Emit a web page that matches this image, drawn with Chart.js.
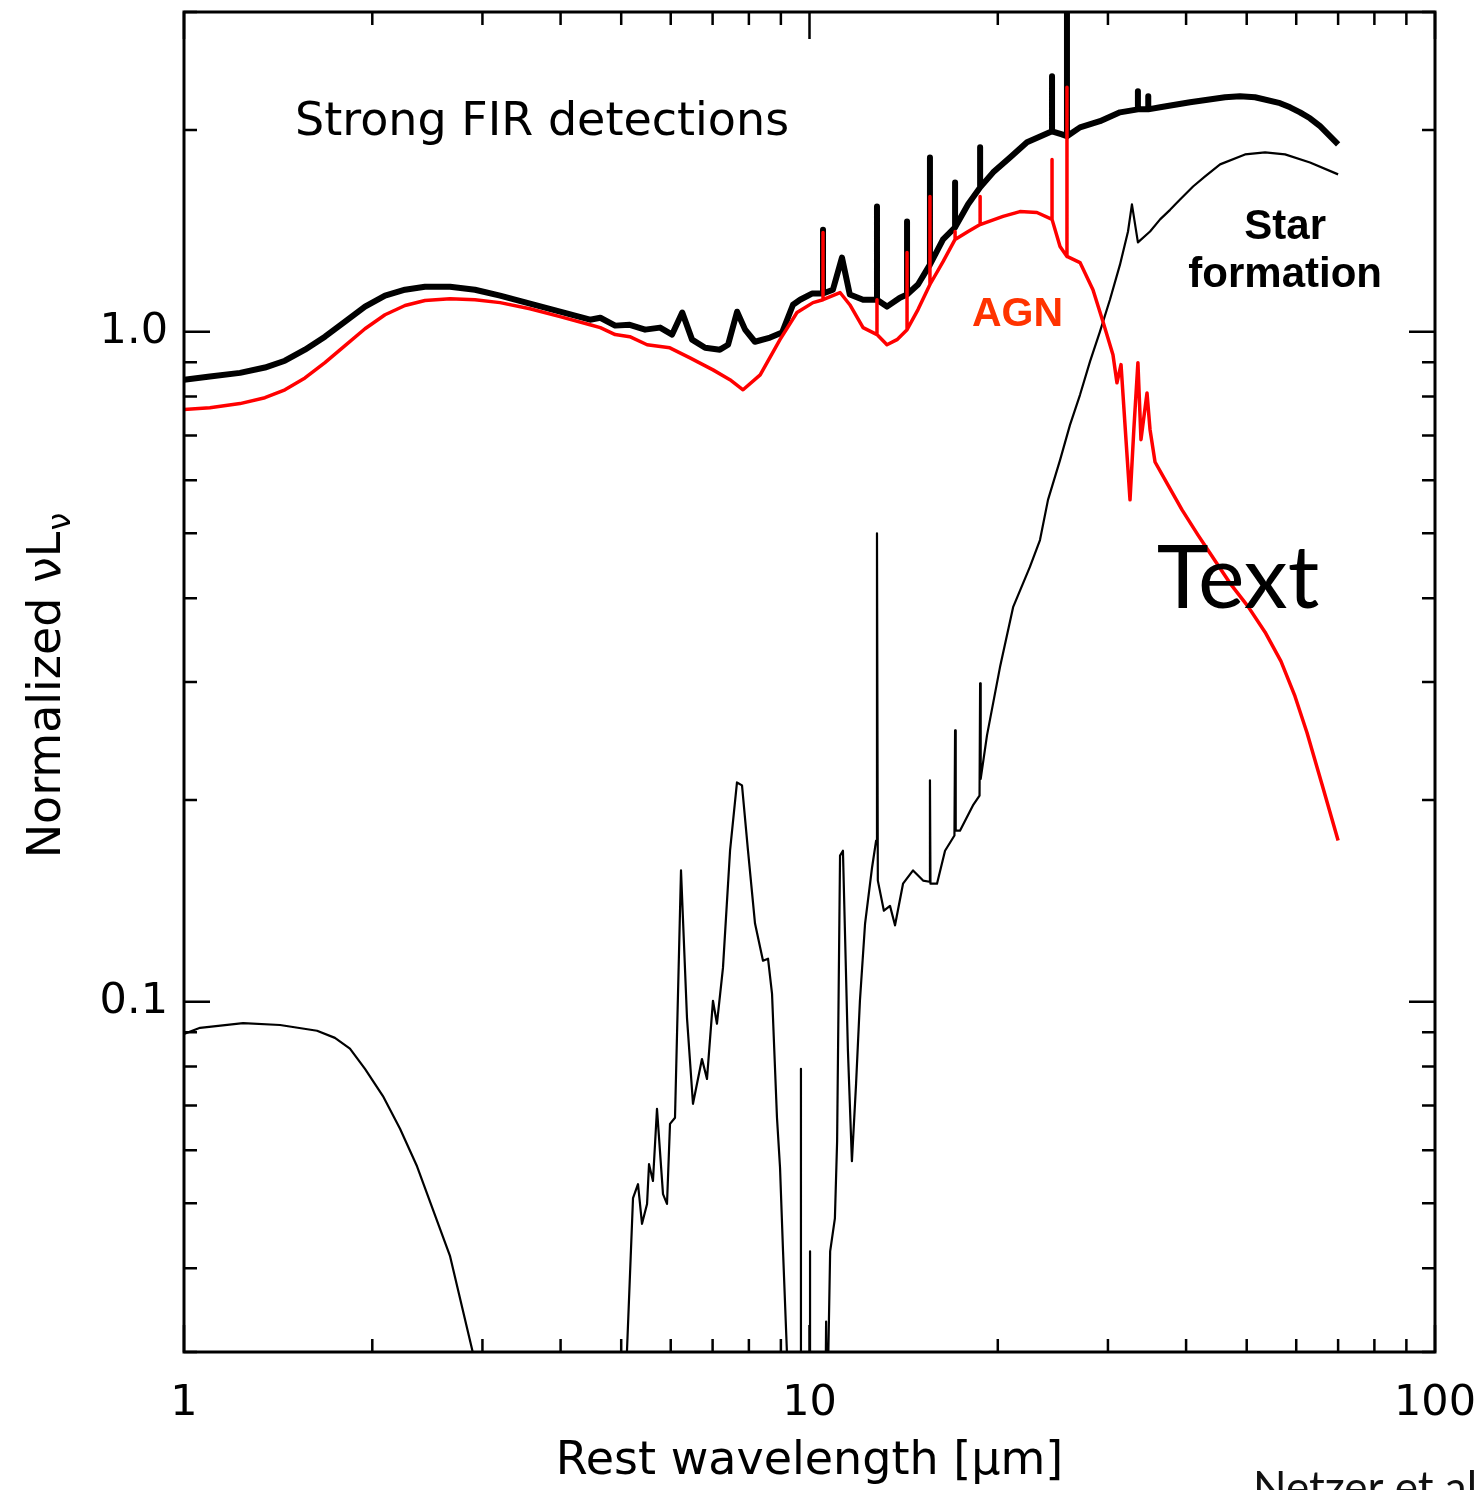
<!DOCTYPE html>
<html>
<head>
<meta charset="utf-8">
<script src="https://cdn.jsdelivr.net/npm/chart.js@4.4.1/dist/chart.umd.min.js"></script>
<style>
  html, body { margin: 0; padding: 0; background: #fff; }
  #sed { display: block; }
</style>
</head>
<body>
<canvas id="sed" width="1481" height="1490"></canvas>
<script>
// Rest wavelength (micron) and normalized nuL_nu

// total SED (thick black)
const totalWave = [1, 1.100, 1.229, 1.347, 1.450, 1.561, 1.680, 1.809, 1.947, 2.096, 2.256, 2.428,
  2.663, 2.919, 3.201, 3.574, 3.992, 4.458,
  4.63, 4.89, 5.16, 5.46, 5.77, 6.03, 6.26, 6.49, 6.81, 7.19, 7.41, 7.66, 7.89,
  8.18, 8.65, 9.04, 9.41, 9.66, 10.09,
  10.51, 10.51, 10.51,
  10.9, 11.27, 11.6, 12.18,
  12.82, 12.82, 12.82,
  13.3, 13.95,
  14.32, 14.32, 14.32,
  14.91,
  15.58, 15.58, 15.58,
  16.35,
  17.09, 17.09, 17.09,
  17.93,
  18.74, 18.74, 18.74,
  19.66, 20.92, 22.27,
  24.42, 24.42, 24.42,
  25.33,
  25.8, 25.8, 25.8,
  27.07, 29.13, 31.36,
  33.5, 33.5, 33.5,
  34.8, 34.8, 34.8,
  36.35, 40.58, 46.17, 48.78, 51.56, 56.53, 58.66, 60.85, 63.12, 65.5, 70];
const totalFlux = [0.848, 0.857, 0.868, 0.884, 0.905, 0.940, 0.983, 1.035, 1.090, 1.132, 1.155, 1.167,
  1.167, 1.155, 1.132, 1.101, 1.071, 1.042,
  1.049, 1.021, 1.024, 1.007, 1.014, 0.990, 1.068, 0.973, 0.946, 0.940, 0.956, 1.071, 1.007,
  0.966, 0.980, 0.997, 1.097, 1.116, 1.140,
  1.140, 1.420, 1.140,
  1.155, 1.290, 1.136, 1.116,
  1.116, 1.538, 1.116,
  1.090, 1.124,
  1.136, 1.460, 1.136,
  1.176,
  1.259, 1.820, 1.259,
  1.373,
  1.431, 1.670, 1.431,
  1.549,
  1.642, 1.884, 1.642,
  1.729, 1.820, 1.917,
  1.991, 2.406, 1.991,
  1.970,
  1.957, 3.500, 1.957,
  2.018, 2.061, 2.125,
  2.147, 2.285, 2.147,
  2.147, 2.245, 2.147,
  2.162, 2.200, 2.238, 2.245, 2.238, 2.193, 2.162, 2.125, 2.082, 2.026, 1.904];

// AGN component (red)
const agnWave = [1, 1.100, 1.229, 1.347, 1.450, 1.561, 1.680, 1.809, 1.947, 2.096, 2.256, 2.428,
  2.663, 2.919, 3.201, 3.574, 3.992, 4.458,
  4.63, 4.89, 5.16, 5.50, 5.98, 6.44, 7.01, 7.46, 7.83, 8.34, 8.97, 9.55, 10.13,
  10.51, 10.51, 10.51,
  11.19, 11.6,
  12.18, 12.82, 12.82, 12.82,
  13.3, 13.8,
  14.32, 14.32, 14.32,
  14.91,
  15.58, 15.58, 15.58,
  16.35,
  17.09, 17.09, 17.09,
  17.93,
  18.74, 18.74, 18.74,
  20.39, 21.7, 23.1,
  24.42, 24.42, 24.42,
  25.15,
  25.8, 25.8, 25.8,
  27.07, 28.39, 29.46, 30.56, 31.01, 31.48, 32.06, 32.54, 33.0, 33.5, 33.88, 34.64, 35.03, 35.68,
  37.43, 39.41, 41.8, 44.5, 47.0, 50.23, 53.5, 56.73, 59.72, 62.43, 65.98, 70];
const agnFlux = [0.765, 0.770, 0.781, 0.797, 0.819, 0.853, 0.899, 0.953, 1.010, 1.060, 1.094, 1.113,
  1.120, 1.116, 1.105, 1.082, 1.053, 1.024,
  1.014, 0.990, 0.983, 0.956, 0.946, 0.914, 0.877, 0.848, 0.819, 0.862, 0.973, 1.068, 1.105,
  1.116, 1.406, 1.116,
  1.144, 1.097,
  1.014, 0.990, 1.116, 0.990,
  0.956, 0.973,
  1.007, 1.313, 1.007,
  1.079,
  1.176, 1.591, 1.176,
  1.272,
  1.373, 1.411, 1.373,
  1.411,
  1.445, 1.591, 1.445,
  1.486, 1.511, 1.506,
  1.471, 1.807, 1.471,
  1.340,
  1.295, 2.317, 1.295,
  1.268, 1.155, 1.035, 0.924, 0.839, 0.893, 0.690, 0.561, 0.714, 0.899, 0.690, 0.810, 0.714, 0.639,
  0.590, 0.542, 0.497, 0.455, 0.4215, 0.389, 0.356, 0.322, 0.2857, 0.252, 0.211, 0.174];

// star formation component (thin black); null = drops below the plot
const sfWave = [1, 1.061, 1.243, 1.424, 1.632, 1.743, 1.842, 1.947, 2.08, 2.215, 2.358, 2.663, 2.897, 3.084, 3.5,
  5.07, 5.222, 5.319, 5.398, 5.499, 5.539, 5.62, 5.704, 5.832, 5.918, 5.984, 6.095, 6.231, 6.37,
  6.512, 6.731, 6.857, 7.009, 7.113, 7.272, 7.464, 7.657, 7.8, 7.974, 8.183, 8.427, 8.584, 8.712,
  8.872, 8.972, 9.072, 9.204, 9.306, 9.5,
  9.69, 9.69, 9.69, 9.85,
  10.02, 10.02, 10.02, 10.3,
  10.60, 10.63, 10.67, 10.79, 10.98, 11.07, 11.19, 11.31, 11.52, 11.69, 11.87, 12.04, 12.27, 12.59,
  12.78, 12.82, 12.86, 13.15, 13.45, 13.7, 14.11, 14.64, 15.19,
  15.55, 15.58, 15.61, 15.99, 16.47,
  17.05, 17.09, 17.13, 17.4, 18.25,
  18.70, 18.74, 18.78, 19.22, 20.16, 21.16, 22.51, 23.36, 24.06, 25.15, 26.09, 27.07, 28.08,
  29.13, 30.22, 31.36, 32.3, 32.77, 33.5, 35.03, 36.35, 37.71, 39.12, 41.04, 42.9, 45.33,
  49.69, 53.5, 57.58, 63.12, 70];
const sfFlux = [0.0895, 0.0914, 0.0929, 0.0923, 0.0905, 0.0883, 0.0851, 0.0794, 0.0723, 0.0646, 0.0568, 0.0417, 0.0299, 0.0236, null,
  0.0253, 0.0509, 0.0534, 0.0466, 0.0499, 0.0572, 0.054, 0.0692, 0.0516, 0.0499, 0.0657, 0.0671, 0.157, 0.0946,
  0.0704, 0.0821, 0.0767, 0.1003, 0.0927, 0.1123, 0.168, 0.2124, 0.2103, 0.168, 0.1308, 0.1151, 0.1159, 0.1027,
  0.0671, 0.0565, 0.0424, 0.0299, 0.0236, null,
  0.0236, 0.0794, 0.0236, null,
  0.0236, 0.0424, 0.0236, null,
  0.0236, 0.0333, 0.0236, 0.0424, 0.0475, 0.0619, 0.1652, 0.168, 0.0844, 0.0578, 0.0754, 0.1003, 0.1308, 0.1586,
  0.174, 0.500, 0.1516, 0.1367, 0.139, 0.130, 0.150, 0.157, 0.1516,
  0.151, 0.214, 0.150, 0.150, 0.168,
  0.177, 0.254, 0.180, 0.180, 0.1963,
  0.203, 0.2987, 0.215, 0.2497, 0.3155, 0.388, 0.4455, 0.4887, 0.561, 0.643, 0.726, 0.805, 0.902,
  1.0, 1.116, 1.259, 1.411, 1.549, 1.359, 1.411, 1.471, 1.520, 1.575, 1.647, 1.705, 1.777,
  1.839, 1.852, 1.839, 1.789, 1.717];

// axes
const xMajorTicks = [1, 10, 100];
const xTickLabels = ['1', '10', '100'];
const xMinorTicks = [2, 3, 4, 5, 6, 7, 8, 9, 20, 30, 40, 50, 60, 70, 80, 90];
const yMajorTicks = [0.1, 1];
const yTickLabels = ['0.1', '1.0'];
const yMinorTicks = [0.03, 0.04, 0.05, 0.06, 0.07, 0.08, 0.09, 0.2, 0.3, 0.4, 0.5, 0.6, 0.7, 0.8, 0.9, 2, 3];

const FONT = "'DejaVu Sans', sans-serif";

function pairs(xs, ys) {
  return xs.map((w, i) => ({ x: w, y: ys[i] }));
}

// inward IDL-style ticks, frame, tick labels and text
const framePlugin = {
  id: 'framePlugin',
  afterDatasetsDraw(chart) {
    const { ctx, chartArea: a, scales } = chart;
    const xs = scales.x, ys = scales.y;
    ctx.save();
    ctx.strokeStyle = '#000';
    ctx.lineWidth = 2.5;
    ctx.beginPath();
    const xTick = (v, len) => {
      const px = xs.getPixelForValue(v);
      ctx.moveTo(px, a.bottom); ctx.lineTo(px, a.bottom - len);
      ctx.moveTo(px, a.top); ctx.lineTo(px, a.top + len);
    };
    const yTick = (v, len) => {
      const py = ys.getPixelForValue(v);
      ctx.moveTo(a.left, py); ctx.lineTo(a.left + len, py);
      ctx.moveTo(a.right, py); ctx.lineTo(a.right - len, py);
    };
    xMajorTicks.forEach(v => xTick(v, 27));
    xMinorTicks.forEach(v => xTick(v, 13));
    yMajorTicks.forEach(v => yTick(v, 26));
    yMinorTicks.forEach(v => yTick(v, 13));
    ctx.stroke();
    ctx.lineWidth = 3;
    ctx.strokeRect(a.left, a.top, a.right - a.left, a.bottom - a.top);

    // tick labels
    ctx.fillStyle = '#000';
    ctx.font = '43px ' + FONT;
    ctx.textAlign = 'center';
    ctx.textBaseline = 'middle';
    xMajorTicks.forEach((v, i) => {
      ctx.fillText(xTickLabels[i], xs.getPixelForValue(v), a.bottom + 52);
    });
    ctx.textAlign = 'right';
    yMajorTicks.forEach((v, i) => {
      ctx.fillText(yTickLabels[i], a.left - 16, ys.getPixelForValue(v));
    });

    // annotations placed in data coordinates
    const at = (w, f) => [xs.getPixelForValue(w), ys.getPixelForValue(f)];
    ctx.textBaseline = 'middle';
    ctx.textAlign = 'left';
    ctx.font = '46px ' + FONT;
    let p = at(1.505, 2.05);
    ctx.fillText('Strong FIR detections', p[0], p[1]);

    ctx.textAlign = 'center';
    ctx.font = "bold 42px 'Liberation Sans', Arial, sans-serif";
    p = at(57.6, 1.43);
    ctx.fillText('Star', p[0], p[1]);
    p = at(57.6, 1.215);
    ctx.fillText('formation', p[0], p[1]);

    ctx.fillStyle = '#ff3300';
    ctx.font = "bold 41px 'Liberation Sans', Arial, sans-serif";
    p = at(21.5, 1.06);
    ctx.fillText('AGN', p[0], p[1]);

    ctx.fillStyle = '#000';
    ctx.textAlign = 'left';
    ctx.textBaseline = 'alphabetic';
    ctx.font = "88px Lato, 'Open Sans', sans-serif";
    p = at(35.9, 0.387);
    ctx.fillText('Text', p[0], p[1]);
    ctx.restore();
  },
  afterDraw(chart) {
    const { ctx, chartArea: a } = chart;
    ctx.save();
    ctx.fillStyle = '#000';
    // x title
    ctx.font = '46px ' + FONT;
    ctx.textAlign = 'center';
    ctx.textBaseline = 'middle';
    ctx.fillText('Rest wavelength [\u03bcm]', (a.left + a.right) / 2, a.bottom + 110);

    // y title with subscript nu
    const main = 'Normalized \u03bdL';
    ctx.font = '46px ' + FONT;
    const wMain = ctx.measureText(main).width;
    ctx.font = '32px ' + FONT;
    const wSub = ctx.measureText('\u03bd').width;
    ctx.translate(44, (a.top + a.bottom) / 2 + 4);
    ctx.rotate(-Math.PI / 2);
    ctx.textAlign = 'left';
    ctx.textBaseline = 'alphabetic';
    const x0 = -(wMain + wSub) / 2;
    ctx.font = '46px ' + FONT;
    ctx.fillText(main, x0, 16);
    ctx.font = '32px ' + FONT;
    ctx.fillText('\u03bd', x0 + wMain + 1, 26);
    ctx.restore();

    // credit, cut by the page edge
    ctx.save();
    ctx.fillStyle = '#111';
    ctx.font = "44px Lato, 'Open Sans', sans-serif";
    ctx.textAlign = 'left';
    ctx.textBaseline = 'alphabetic';
    ctx.fillText('Netzer et al. 2016', 1253, 1503);
    ctx.restore();
  }
};

const ctx = document.getElementById('sed');
new Chart(ctx, {
  type: 'scatter',
  data: {
    datasets: [
      {
        label: 'AGN',
        data: pairs(agnWave, agnFlux),
        showLine: true,
        borderColor: '#ff0000',
        borderWidth: 3.5,
        pointRadius: 0,
        tension: 0,
        borderJoinStyle: 'round',
        clip: 0
      },
      {
        label: 'Star formation',
        data: pairs(sfWave, sfFlux),
        showLine: true,
        spanGaps: false,
        borderColor: '#000000',
        borderWidth: 2.2,
        pointRadius: 0,
        tension: 0,
        borderJoinStyle: 'round',
        clip: 0
      },
      {
        label: 'Total',
        data: pairs(totalWave, totalFlux),
        showLine: true,
        borderColor: '#000000',
        borderWidth: 6,
        pointRadius: 0,
        tension: 0,
        borderJoinStyle: 'round',
        clip: 0
      }
    ]
  },
  options: {
    responsive: false,
    animation: false,
    events: [],
    layout: { padding: { top: 12, right: 46, left: 0, bottom: 0 } },
    plugins: {
      legend: { display: false },
      tooltip: { enabled: false }
    },
    scales: {
      x: {
        type: 'logarithmic',
        min: 1,
        max: 100,
        grid: { display: false, drawTicks: false },
        border: { display: false },
        ticks: { display: false },
        afterFit: s => { s.height = 138; }
      },
      y: {
        type: 'logarithmic',
        min: 0.03,
        max: 3,
        grid: { display: false, drawTicks: false },
        border: { display: false },
        ticks: { display: false },
        afterFit: s => { s.width = 184; }
      }
    }
  },
  plugins: [framePlugin]
});
</script>
</body>
</html>
